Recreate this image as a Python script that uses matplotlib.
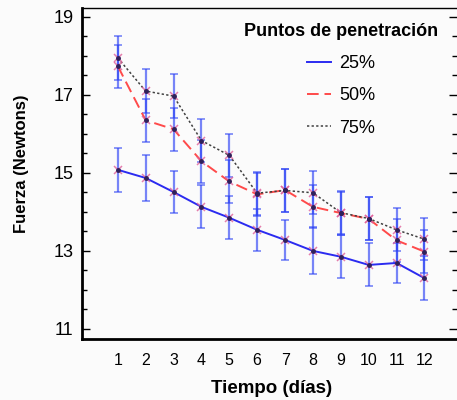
import numpy as np
import matplotlib
matplotlib.use('Agg')
import matplotlib.pyplot as plt

plt.rcParams['font.family'] = ['Liberation Sans', 'DejaVu Sans']

dias = [1, 2, 3, 4, 5, 6, 7, 8, 9, 10, 11, 12]

# medias por punto de penetracion
f25 = [15.08, 14.87, 14.51, 14.13, 13.85, 13.54, 13.28, 13.00, 12.85, 12.64, 12.69, 12.30]
f50 = [17.74, 16.35, 16.12, 15.30, 14.78, 14.45, 14.56, 14.13, 13.97, 13.82, 13.27, 12.98]
f75 = [17.95, 17.10, 16.97, 15.83, 15.45, 14.48, 14.55, 14.49, 13.98, 13.83, 13.54, 13.30]

# semiamplitud de las barras de error
e25 = [0.56, 0.58, 0.54, 0.55, 0.55, 0.54, 0.52, 0.60, 0.55, 0.55, 0.51, 0.56]
e50 = [0.55, 0.55, 0.55, 0.55, 0.55, 0.55, 0.55, 0.55, 0.55, 0.55, 0.55, 0.55]
e75 = [0.57, 0.56, 0.56, 0.55, 0.55, 0.55, 0.55, 0.55, 0.55, 0.55, 0.55, 0.54]

series = [
    ('25%', f25, e25, '#2b2bf0', '-', 1.4),
    ('50%', f50, e50, '#ff4a4a', (0, (6, 3)), 1.4),
    ('75%', f75, e75, '#404040', (0, (1.5, 1.5)), 1.1),
]

fig = plt.figure(figsize=(4.57, 4.0), dpi=100)
fig.patch.set_facecolor('#fbfbfb')
ax = fig.add_axes([0.179, 0.1525, 0.82, 0.8275])
ax.set_facecolor('#fbfbfb')

for label, y, err, color, ls, lw in series:
    ax.errorbar(dias, y, yerr=err, fmt='none', ecolor='#3045f5', elinewidth=1.6,
                capsize=3, capthick=1.2, alpha=0.65, zorder=2)
    ax.plot(dias, y, color=color, linestyle=ls, linewidth=lw, label=label, zorder=3)
    ax.plot(dias, y, linestyle='none', marker='x', markersize=6, markeredgewidth=1.1,
            markeredgecolor='#e0609a', alpha=0.8, zorder=4)
    ax.plot(dias, y, linestyle='none', marker='o', markersize=2.5,
            color='#30205a', zorder=5)

ax.set_xlim(-0.29, 13.15)
ax.set_ylim(10.74, 19.23)
ax.set_xticks(dias)
ax.set_yticks([11, 13, 15, 17, 19])
ax.set_yticks(np.arange(11, 19.01, 0.5), minor=True)
ax.tick_params(axis='x', length=0, labelsize=11.5, pad=10)
ax.tick_params(axis='y', which='major', direction='in', length=6, width=1, labelsize=13, pad=6)
ax.tick_params(axis='y', which='minor', direction='in', length=3.5, width=1)
ax.tick_params(axis='y', which='both', right=True)

for side in ['left', 'bottom']:
    ax.spines[side].set_linewidth(2)
ax.spines['top'].set_linewidth(1)
ax.spines['right'].set_visible(False)

ax.set_xlabel('Tiempo (días)', fontsize=13.5, fontweight='bold')
ax.xaxis.set_label_coords(0.507, -0.125)
ax.set_ylabel('Fuerza (Newtons)', fontsize=12, fontweight='bold')
ax.yaxis.set_label_coords(-0.14, 0.53)

leg = ax.legend(loc='upper right', bbox_to_anchor=(0.995, 1.005), frameon=False,
                title='Puntos de penetración', fontsize=13, handlelength=1.3,
                labelspacing=0.85, handletextpad=0.5)
leg.get_title().set_fontweight('bold')
leg.get_title().set_fontsize(13)

fig.savefig('out.png', dpi=100, facecolor=fig.get_facecolor())
